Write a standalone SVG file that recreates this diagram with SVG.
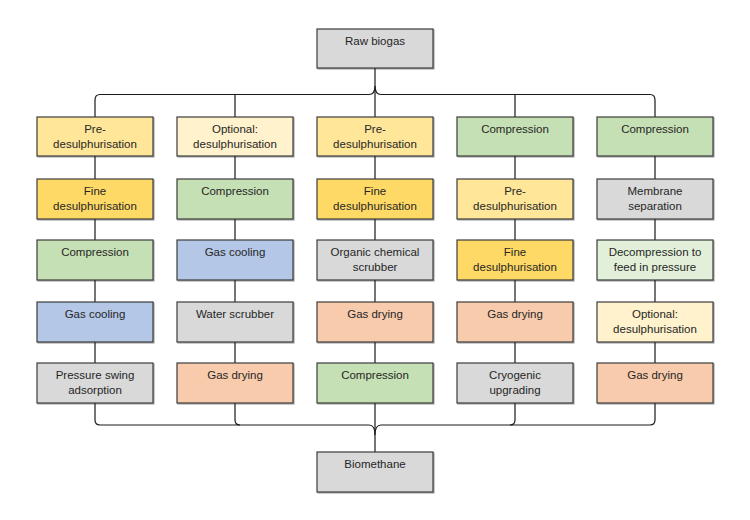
<svg xmlns="http://www.w3.org/2000/svg" width="750" height="520" viewBox="0 0 750 520">
<style>
.b{stroke:#3b3b3b;stroke-width:1.2;filter:url(#sh)}
.t{font-family:"Liberation Sans",Arial,sans-serif;font-size:11.5px;fill:#262626;text-anchor:middle}
.c{fill:none;stroke:#1a1a1a;stroke-width:1.2}
.pre{fill:#FFE699}.fine{fill:#FFD966}.comp{fill:#C5E0B4}.cool{fill:#B4C7E7}
.gray{fill:#D9D9D9}.dry{fill:#F8CBAD}.opt{fill:#FFF2CC}.dec{fill:#E2F0D9}
</style>
<defs>
<filter id="sh" x="-5%" y="-5%" width="112%" height="120%">
<feDropShadow dx="1" dy="1" stdDeviation="0.6" flood-color="#000" flood-opacity="0.35"/>
</filter>
</defs>
<rect width="750" height="520" fill="#fff"/>
<g id="connectors">
<path class="c" d="M375,68 V117"/>
<path class="c" d="M95,117 V100 Q95,94.5 100,94.5 H369 Q375,94.5 375,86 Q375,94.5 381,94.5 H650 Q655,94.5 655,100 V117"/>
<path class="c" d="M235,94.5 V117 M515,94.5 V117"/>
<path class="c" d="M95,156 V179 M235,156 V179 M375,156 V179 M515,156 V179 M655,156 V179"/>
<path class="c" d="M95,219 V240 M235,219 V240 M375,219 V240 M515,219 V240 M655,219 V240"/>
<path class="c" d="M95,280 V302 M235,280 V302 M375,280 V302 M515,280 V302 M655,280 V302"/>
<path class="c" d="M95,342 V363 M235,342 V363 M375,342 V363 M515,342 V363 M655,342 V363"/>
<path class="c" d="M95,403 V420 Q95,425 100,425 H369 Q375,425 375,435 Q375,425 381,425 H650 Q655,425 655,420 V403"/>
<path class="c" d="M235,403 V420 Q235,425 240,425 M515,403 V420 Q515,425 510,425"/>
<path class="c" d="M375,403 V452"/>
</g>
<g id="raw"><rect class="b gray" x="317" y="29" width="116" height="39"/><text class="t" x="375" y="45">Raw biogas</text></g>
<g id="bio"><rect class="b gray" x="317" y="452" width="116" height="40"/><text class="t" x="375" y="468">Biomethane</text></g>

<g id="c1r1"><rect class="b pre" x="37" y="117" width="116" height="39"/><text class="t" x="95" y="133">Pre-</text><text class="t" x="95" y="148">desulphurisation</text></g>
<g id="c1r2"><rect class="b fine" x="37" y="179" width="116" height="40"/><text class="t" x="95" y="195">Fine</text><text class="t" x="95" y="210">desulphurisation</text></g>
<g id="c1r3"><rect class="b comp" x="37" y="240" width="116" height="40"/><text class="t" x="95" y="256">Compression</text></g>
<g id="c1r4"><rect class="b cool" x="37" y="302" width="116" height="40"/><text class="t" x="95" y="318">Gas cooling</text></g>
<g id="c1r5"><rect class="b gray" x="37" y="363" width="116" height="40"/><text class="t" x="95" y="379">Pressure swing</text><text class="t" x="95" y="394">adsorption</text></g>

<g id="c2r1"><rect class="b opt" x="177" y="117" width="116" height="39"/><text class="t" x="235" y="133">Optional:</text><text class="t" x="235" y="148">desulphurisation</text></g>
<g id="c2r2"><rect class="b comp" x="177" y="179" width="116" height="40"/><text class="t" x="235" y="195">Compression</text></g>
<g id="c2r3"><rect class="b cool" x="177" y="240" width="116" height="40"/><text class="t" x="235" y="256">Gas cooling</text></g>
<g id="c2r4"><rect class="b gray" x="177" y="302" width="116" height="40"/><text class="t" x="235" y="318">Water scrubber</text></g>
<g id="c2r5"><rect class="b dry" x="177" y="363" width="116" height="40"/><text class="t" x="235" y="379">Gas drying</text></g>

<g id="c3r1"><rect class="b pre" x="317" y="117" width="116" height="39"/><text class="t" x="375" y="133">Pre-</text><text class="t" x="375" y="148">desulphurisation</text></g>
<g id="c3r2"><rect class="b fine" x="317" y="179" width="116" height="40"/><text class="t" x="375" y="195">Fine</text><text class="t" x="375" y="210">desulphurisation</text></g>
<g id="c3r3"><rect class="b gray" x="317" y="240" width="116" height="40"/><text class="t" x="375" y="256">Organic chemical</text><text class="t" x="375" y="271">scrubber</text></g>
<g id="c3r4"><rect class="b dry" x="317" y="302" width="116" height="40"/><text class="t" x="375" y="318">Gas drying</text></g>
<g id="c3r5"><rect class="b comp" x="317" y="363" width="116" height="40"/><text class="t" x="375" y="379">Compression</text></g>

<g id="c4r1"><rect class="b comp" x="457" y="117" width="116" height="39"/><text class="t" x="515" y="133">Compression</text></g>
<g id="c4r2"><rect class="b pre" x="457" y="179" width="116" height="40"/><text class="t" x="515" y="195">Pre-</text><text class="t" x="515" y="210">desulphurisation</text></g>
<g id="c4r3"><rect class="b fine" x="457" y="240" width="116" height="40"/><text class="t" x="515" y="256">Fine</text><text class="t" x="515" y="271">desulphurisation</text></g>
<g id="c4r4"><rect class="b dry" x="457" y="302" width="116" height="40"/><text class="t" x="515" y="318">Gas drying</text></g>
<g id="c4r5"><rect class="b gray" x="457" y="363" width="116" height="40"/><text class="t" x="515" y="379">Cryogenic</text><text class="t" x="515" y="394">upgrading</text></g>

<g id="c5r1"><rect class="b comp" x="597" y="117" width="116" height="39"/><text class="t" x="655" y="133">Compression</text></g>
<g id="c5r2"><rect class="b gray" x="597" y="179" width="116" height="40"/><text class="t" x="655" y="195">Membrane</text><text class="t" x="655" y="210">separation</text></g>
<g id="c5r3"><rect class="b dec" x="597" y="240" width="116" height="40"/><text class="t" x="655" y="256">Decompression to</text><text class="t" x="655" y="271">feed in pressure</text></g>
<g id="c5r4"><rect class="b opt" x="597" y="302" width="116" height="40"/><text class="t" x="655" y="318">Optional:</text><text class="t" x="655" y="333">desulphurisation</text></g>
<g id="c5r5"><rect class="b dry" x="597" y="363" width="116" height="40"/><text class="t" x="655" y="379">Gas drying</text></g>
</svg>
